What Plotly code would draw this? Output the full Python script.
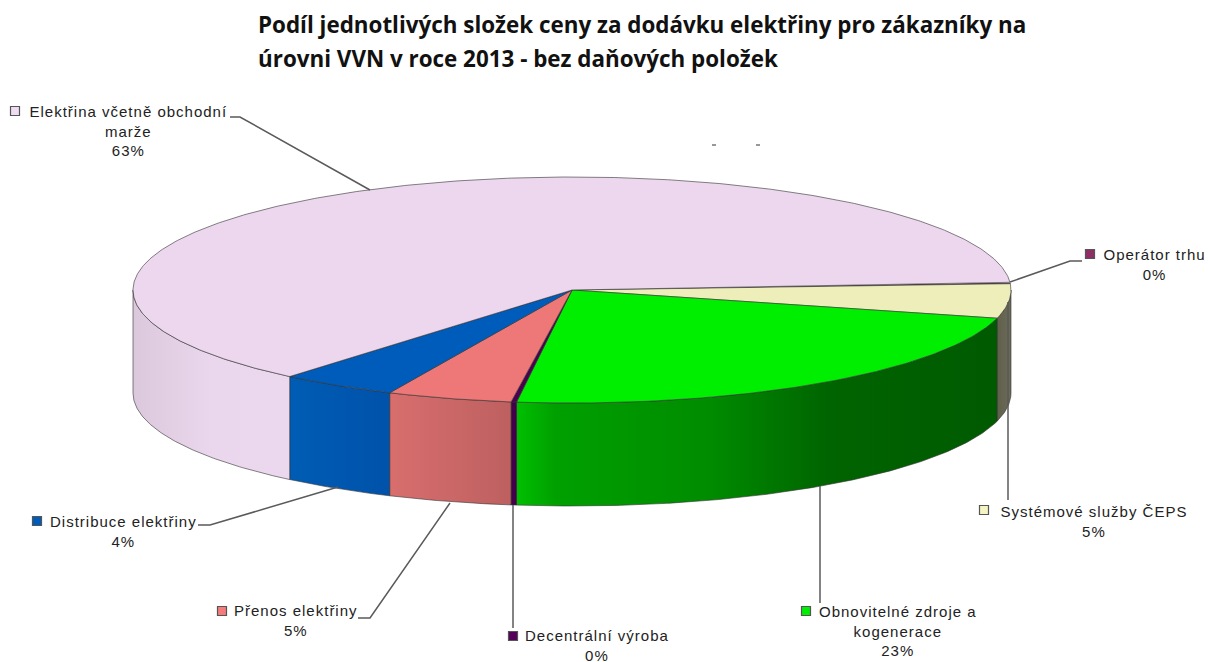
import math
import plotly.graph_objects as go

# slices clockwise, starting at the right hand edge of the pie
names = ["Operátor trhu", "Systémové služby ČEPS", "Obnovitelné zdroje a<br>kogenerace",
         "Decentrální výroba", "Přenos elektřiny", "Distribuce elektřiny",
         "Elektřina včetně obchodní<br>marže"]
shares = [0.2, 4.9, 23.0, 0.2, 4.6, 4.3, 62.8]

top_colors = ["#8b2b63", "#eeeebb", "#00ee00", "#4b0050", "#ee7777", "#005cbb", "#ecd7ee"]
swatch_colors = ["#8f2f66", "#f4f4c4", "#00ee00", "#55005a", "#f47c7c", "#005cbb", "#f0dcf2"]
side_scales = [
    [[0, "#3d1a2f"], [1, "#3d1a2f"]],
    [[0, "#5f5f4c"], [1, "#6c6c58"]],
    [[0, "#00c000"], [0.08, "#00a000"], [0.4, "#008c00"], [0.65, "#006400"], [1, "#005a00"]],
    [[0, "#42004a"], [1, "#42004a"]],
    [[0, "#d86e6e"], [1, "#be6060"]],
    [[0, "#005cb4"], [1, "#0052aa"]],
    [[0, "#dcc8dc"], [0.5, "#ebd7ed"], [1, "#ecd8ee"]],
]

# pie geometry in picture pixels
CX, CY, RX, RY, DEPTH = 572, 290, 439, 113, 103
START = -3.9
EDGE = "rgba(50,50,50,0.6)"

# label anchor (centre x, top line y) and swatch position
label_pos = [(1154, 244), (1094, 501), (898, 601), (597, 625), (296, 600), (123, 511), (128, 101)]
swatch_pos = [(1090, 254), (984, 510), (806, 611), (513, 636), (222, 611), (37, 521), (15, 111)]

# leader lines, label end to pie
leaders = [
    [(1082, 261), (1070, 261), (1010, 282)],
    [(1008, 500), (1008, 302)],
    [(820, 486), (820, 603)],
    [(513, 505), (513, 628)],
    [(358, 618), (370, 618), (450, 503)],
    [(198, 525), (210, 525), (338, 487)],
    [(230, 117), (240, 117), (370, 190)],
]


def arc(t1, t2, dy=0):
    n = max(int(abs(t2 - t1)), 2) * 2
    ts = [t1 + (t2 - t1) * i / n for i in range(n + 1)]
    return ([CX + RX * math.cos(math.radians(t)) for t in ts],
            [CY + dy + RY * math.sin(math.radians(t)) for t in ts])


# slice limits from the shares
bounds = [START]
for s in shares:
    bounds.append(bounds[-1] + s * 3.6)

fig = go.Figure()

# rim first, only the front half shows
for i in range(len(shares)):
    t1, t2 = max(bounds[i], 0), min(bounds[i + 1], 180)
    if t2 <= t1:
        continue
    xa, ya = arc(t1, t2)
    xb, yb = arc(t2, t1, DEPTH)
    fig.add_trace(go.Scatter(
        x=xa + xb + xa[:1], y=ya + yb + ya[:1], mode="lines", fill="toself",
        fillgradient=dict(type="horizontal", colorscale=side_scales[i]),
        line=dict(color=EDGE, width=1), hoverinfo="skip", showlegend=False))

# top face
for i in range(len(shares)):
    xa, ya = arc(bounds[i], bounds[i + 1])
    fig.add_trace(go.Scatter(
        x=[CX] + xa + [CX], y=[CY] + ya + [CY], mode="lines", fill="toself",
        fillcolor=top_colors[i], line=dict(color=EDGE, width=1),
        name=names[i].replace("<br>", " "), text=f"{shares[i]}%", hoverinfo="name+text",
        showlegend=False))

# swatches next to the labels
fig.add_trace(go.Scatter(
    x=[p[0] for p in swatch_pos], y=[p[1] for p in swatch_pos], mode="markers",
    marker=dict(symbol="square", size=9, color=swatch_colors, line=dict(color="#555", width=1.2)),
    hoverinfo="skip", showlegend=False))

shapes = []
for pts in leaders:
    path = "M " + " L ".join(f"{x},{y}" for x, y in pts)
    shapes.append(dict(type="path", path=path, line=dict(color="#5a5a5a", width=1.5)))
# the two stray dashes above the pie
for x in (714, 758):
    shapes.append(dict(type="line", x0=x - 2, x1=x + 2, y0=145, y1=145, line=dict(color="#333", width=1)))

annotations = [
    dict(text="Podíl jednotlivých složek ceny za dodávku elektřiny pro zákazníky na", x=256, y=24),
    dict(text="úrovni VVN v roce 2013 - bez daňových položek", x=256, y=58),
]
for a in annotations:
    a.update(xref="x", yref="y", xanchor="left", yanchor="middle", showarrow=False,
             font=dict(family="Open Sans", size=22.4, color="#111"))
    a["text"] = f"<b>{a['text']}</b>"

for i, (x, y) in enumerate(label_pos):
    annotations.append(dict(
        text=f"{names[i]}<br>{round(shares[i])}%", x=x, y=y, xref="x", yref="y",
        xanchor="center", yanchor="top", align="center", showarrow=False,
        font=dict(family="Liberation Sans", size=15, color="#222")))

fig.update_layout(
    width=1208, height=662,
    margin=dict(l=0, r=0, t=0, b=0),
    paper_bgcolor="white", plot_bgcolor="white",
    xaxis=dict(range=[0, 1208], visible=False),
    yaxis=dict(range=[662, 0], visible=False),
    shapes=shapes, annotations=annotations,
)

# page margin off, and the wide tracking of the slice labels
page_js = """
document.body.style.margin = '0';
[...document.querySelectorAll('.annotation-text')].slice(2).forEach(t => t.style.letterSpacing = '1px');
"""
fig.write_html("out.html", post_script=page_js, config={"displayModeBar": False})
